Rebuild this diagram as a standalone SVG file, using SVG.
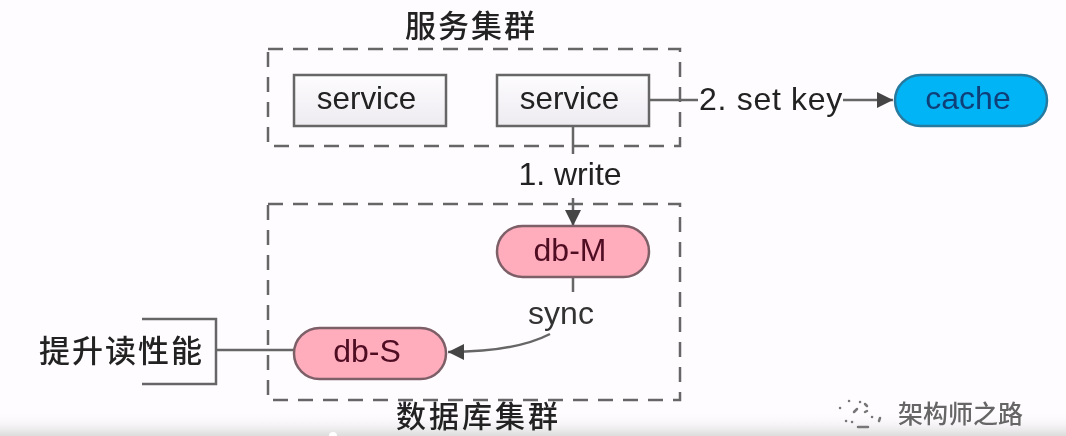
<svg xmlns="http://www.w3.org/2000/svg" width="1066" height="436" viewBox="0 0 1066 436">
<style>
.lat{font-family:"Liberation Sans",Arial,sans-serif;font-size:32px;text-anchor:middle}
.svt{font-size:31.4px}
.cjk{font-family:"Noto Sans CJK SC","Noto Sans",sans-serif;font-size:31px;font-weight:500;fill:#222;letter-spacing:2px}
.zone{fill:none;stroke:#666;stroke-width:2.5;stroke-dasharray:15 10}
.svc{fill:url(#svcFill);stroke:#666;stroke-width:2.5}
.db{fill:#ffacbd;stroke:#7d5f68;stroke-width:2.5}
.ln{fill:none;stroke:#666;stroke-width:2.5}
.lbl{fill:#222}
</style>
<defs>
<linearGradient id="svcFill" x1="0" y1="0" x2="0" y2="1"><stop offset="0" stop-color="#fdfcfe"/><stop offset="1" stop-color="#eeebf0"/></linearGradient>
<linearGradient id="fade" x1="0" y1="0" x2="0" y2="1"><stop offset="0" stop-color="#fffcff" stop-opacity="0"/><stop offset="1" stop-color="#dcdcdc"/></linearGradient>
<filter id="soft" x="0" y="0" width="1066" height="436" filterUnits="userSpaceOnUse"><feGaussianBlur stdDeviation="0.6"/></filter>
<marker id="arr" markerUnits="userSpaceOnUse" markerWidth="20" markerHeight="20" refX="17" refY="10" orient="auto"><path d="M1 2L17 10L1 18Z" fill="#444"/></marker>
</defs>
<rect width="1066" height="436" fill="#fffcff"/>
<rect y="412" width="1066" height="24" fill="url(#fade)"/>
<g filter="url(#soft)">
<g id="zone-service"><rect class="zone" x="268" y="49" width="412" height="97"/><text class="cjk" x="405" y="37">服务集群</text></g>
<g id="zone-db"><rect class="zone" x="268" y="204" width="412" height="196"/><text class="cjk" x="396" y="427" style="font-size:30px;letter-spacing:3px">数据库集群</text></g>
<g id="connectors">
<path class="ln" d="M649 100H698"/>
<path class="ln" d="M843 100H893" marker-end="url(#arr)"/>
<path class="ln" d="M573 126V154"/>
<path class="ln" d="M573 198V226" marker-end="url(#arr)"/>
<path class="ln" d="M573 277V292"/>
<path class="ln" d="M550 334C525 347 490 352 448 352" marker-end="url(#arr)"/>
<path class="ln" d="M216 350H294"/>
</g>
<g id="service-1"><rect class="svc" x="294" y="75" width="152" height="51"/><text class="lat lbl svt" x="366.5" y="109">service</text></g>
<g id="service-2"><rect class="svc" x="497" y="75" width="152" height="51"/><text class="lat lbl svt" x="569.5" y="109">service</text></g>
<g id="cache"><rect x="895" y="75" width="152" height="51" rx="25.5" fill="#06b4f5" stroke="#287a9f" stroke-width="2.5"/><text class="lat" x="968" y="109" fill="#0d3f78">cache</text></g>
<g id="db-m"><rect class="db" x="497" y="226" width="152" height="51" rx="25.5"/><text class="lat" x="570" y="261" fill="#4f0c24">db-M</text></g>
<g id="db-s"><rect class="db" x="294" y="328" width="152" height="51" rx="25.5"/><text class="lat" x="367" y="362" fill="#4f0c24">db-S</text></g>
<g id="note"><path class="ln" d="M142 319H216V384H142"/><text class="cjk" x="39" y="362">提升读性能</text></g>
<text class="lat lbl" x="771" y="110" letter-spacing="0.7">2. set key</text>
<text class="lat lbl" x="570" y="185">1. write</text>
<text class="lat" x="561" y="324" fill="#333">sync</text>
<g id="watermark">
<path d="M849 401l.1 0M860 402l.1 0M865 404l2 2M857 409l-3 3M867 411l-2 1M840 408l.1 0M872 417l.1 0M846 421l.1 0M852 422l.1 0M880 418l-1 3M858 427h10" fill="none" stroke="#777" stroke-width="2.5" stroke-linecap="round"/>
<text x="898" y="423" font-family="'Noto Sans CJK SC',sans-serif" font-size="25" font-weight="500" fill="#666">架构师之路</text>
</g>
</g>
<circle cx="333" cy="436" r="4" fill="#fff"/>
</svg>
